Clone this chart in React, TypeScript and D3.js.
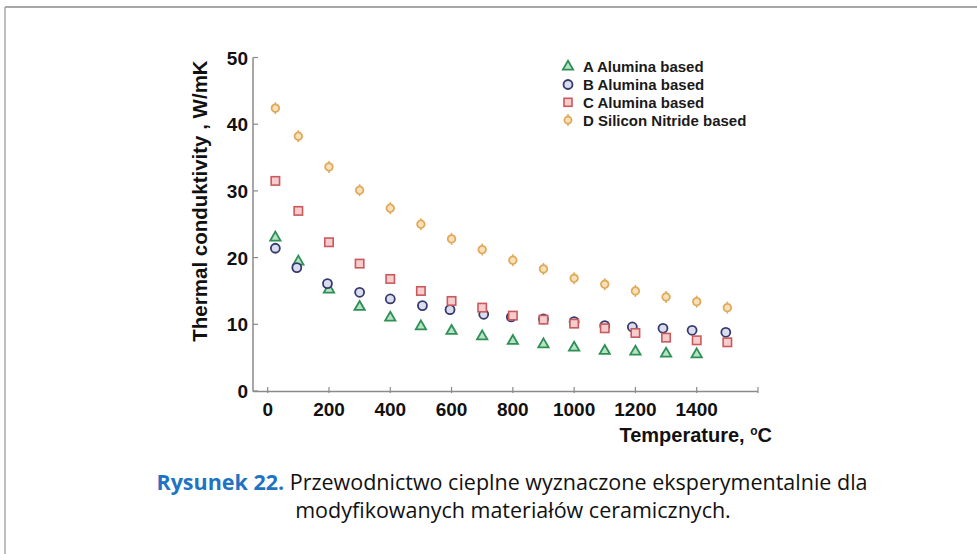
import * as d3 from 'd3'
import { useEffect, useRef } from 'react'

const temps = [25, 100, 200, 300, 400, 500, 600, 700, 800, 900, 1000, 1100, 1200, 1300, 1400, 1500]
const tempsB = [25, 95, 195, 300, 400, 505, 595, 705, 795, 900, 1000, 1100, 1190, 1290, 1385, 1495]
const seriesA = [23.0, 19.4, 15.2, 12.6, 11.0, 9.7, 9.0, 8.2, 7.5, 7.0, 6.5, 6.0, 5.9, 5.6, 5.5]
const seriesB = [21.4, 18.5, 16.1, 14.8, 13.8, 12.8, 12.2, 11.5, 11.1, 10.8, 10.4, 9.8, 9.6, 9.4, 9.1, 8.8]
const seriesC = [31.5, 27.0, 22.3, 19.1, 16.8, 15.0, 13.5, 12.5, 11.3, 10.7, 10.1, 9.4, 8.7, 8.0, 7.6, 7.3]
const seriesD = [42.4, 38.2, 33.6, 30.1, 27.4, 25.0, 22.8, 21.2, 19.6, 18.3, 16.9, 16.0, 15.0, 14.1, 13.4, 12.5]
const legendLabels = ['A Alumina based', 'B Alumina based', 'C Alumina based', 'D Silicon Nitride based']
const xTicks = [0, 200, 400, 600, 800, 1000, 1200, 1400]
const yTicks = [0, 10, 20, 30, 40, 50]

export default function App() {
    const svgRef = useRef(null)
    const width = 977, height = 554

    useEffect(() => {
        const svg = d3.select(svgRef.current)
        svg.selectAll('*').remove()

        // frame of the page
        svg.append('line').attr('x1', 5).attr('x2', width).attr('y1', 7).attr('y2', 7)
            .attr('stroke', '#a8a8a8').attr('stroke-width', 2)
        svg.append('line').attr('x1', 5).attr('x2', 5).attr('y1', 7).attr('y2', height)
            .attr('stroke', '#a8a8a8').attr('stroke-width', 1.5)

        const xScale = d3.scaleLinear().domain([0, 1400]).range([267.7, 696.7])
        const yScale = d3.scaleLinear().domain([0, 50]).range([391, 57.5])
        const axisColor = '#8a8a8a'
        const font = '"Liberation Sans", Arial, sans-serif'

        // axes
        svg.append('line').attr('x1', 253).attr('x2', xScale(1600)).attr('y1', 391.5).attr('y2', 391.5)
            .attr('stroke', axisColor).attr('stroke-width', 1.5)
        svg.append('line').attr('x1', 253).attr('x2', 253).attr('y1', 391.5).attr('y2', yScale(50))
            .attr('stroke', axisColor).attr('stroke-width', 1.5)
        svg.append('g').selectAll('line')
            .data([...xTicks, 1600])
            .join('line')
                .attr('x1', d => xScale(d)).attr('x2', d => xScale(d))
                .attr('y1', 387).attr('y2', 393)
                .attr('stroke', axisColor).attr('stroke-width', 1.2)
        svg.append('g').selectAll('line')
            .data(yTicks)
            .join('line')
                .attr('x1', 253).attr('x2', 258)
                .attr('y1', d => yScale(d)).attr('y2', d => yScale(d))
                .attr('stroke', axisColor).attr('stroke-width', 1.2)

        svg.append('g').selectAll('text')
            .data(xTicks)
            .join('text')
                .attr('x', d => xScale(d)).attr('y', 416)
                .attr('text-anchor', 'middle')
                .style('font', `bold 19px ${font}`)
                .attr('fill', '#111')
                .text(d => d)
        svg.append('g').selectAll('text')
            .data(yTicks)
            .join('text')
                .attr('x', 248).attr('y', d => yScale(d) + 7)
                .attr('text-anchor', 'end')
                .style('font', `bold 19px ${font}`)
                .attr('fill', '#111')
                .text(d => d)

        const xt = svg.append('text')
            .attr('x', 772).attr('y', 442)
            .attr('text-anchor', 'end')
            .style('font', `bold 20px ${font}`)
            .attr('fill', '#111')
        xt.append('tspan').text('Temperature, ')
        xt.append('tspan').attr('dy', -7).style('font-size', '12px').text('o')
        xt.append('tspan').attr('dy', 7).text('C')

        svg.append('text')
            .attr('transform', 'translate(207, 201) rotate(-90)')
            .attr('text-anchor', 'middle')
            .style('font', `bold 20.5px ${font}`)
            .attr('fill', '#111')
            .text('Thermal conduktivity , W/mK')

        // markers
        const tri = d3.symbol(d3.symbolTriangle, 46)
        svg.append('g').selectAll('path')
            .data(seriesA)
            .join('path')
                .attr('d', tri)
                .attr('transform', (d, i) => `translate(${xScale(temps[i])},${yScale(d)})`)
                .attr('fill', '#b5e3c6').attr('stroke', '#2f8f55').attr('stroke-width', 1.8)
        svg.append('g').selectAll('circle')
            .data(seriesB)
            .join('circle')
                .attr('cx', (d, i) => xScale(tempsB[i])).attr('cy', d => yScale(d)).attr('r', 4.5)
                .attr('fill', '#dcdcef').attr('stroke', '#353a6e').attr('stroke-width', 1.8)
        svg.append('g').selectAll('rect')
            .data(seriesC)
            .join('rect')
                .attr('x', (d, i) => xScale(temps[i]) - 4.2).attr('y', d => yScale(d) - 4.2)
                .attr('width', 8.4).attr('height', 8.4)
                .attr('fill', '#f6cccc').attr('stroke', '#c85a5e').attr('stroke-width', 1.6)
        const dG = svg.append('g').selectAll('g')
            .data(seriesD)
            .join('g')
                .attr('transform', (d, i) => `translate(${xScale(temps[i])},${yScale(d)})`)
        dG.append('line').attr('y1', -6).attr('y2', 6).attr('stroke', '#e0aa5c').attr('stroke-width', 1.5)
        dG.append('circle').attr('r', 3.8)
            .attr('fill', '#f8e0b8').attr('stroke', '#e0aa5c').attr('stroke-width', 1.8)

        // legend
        const lx = 568, ly = 66.7, ls = 17.8
        const leg = svg.append('g')
        leg.append('path').attr('d', tri).attr('transform', `translate(${lx},${ly})`)
            .attr('fill', '#b5e3c6').attr('stroke', '#2f8f55').attr('stroke-width', 1.8)
        leg.append('circle').attr('cx', lx).attr('cy', ly + ls).attr('r', 4.5)
            .attr('fill', '#dcdcef').attr('stroke', '#353a6e').attr('stroke-width', 1.8)
        leg.append('rect').attr('x', lx - 4).attr('y', ly + 2 * ls - 4).attr('width', 8).attr('height', 8)
            .attr('fill', '#f6cccc').attr('stroke', '#c85a5e').attr('stroke-width', 1.6)
        leg.append('line').attr('x1', lx).attr('x2', lx).attr('y1', ly + 3 * ls - 6).attr('y2', ly + 3 * ls + 6)
            .attr('stroke', '#e0aa5c').attr('stroke-width', 1.5)
        leg.append('circle').attr('cx', lx).attr('cy', ly + 3 * ls).attr('r', 3.6)
            .attr('fill', '#f8e0b8').attr('stroke', '#e0aa5c').attr('stroke-width', 1.8)
        leg.selectAll('text')
            .data(legendLabels)
            .join('text')
                .attr('x', 583).attr('y', (d, i) => ly + i * ls + 5.5)
                .style('font', `bold 15px ${font}`)
                .attr('fill', '#1a1a1a')
                .text(d => d)

        // caption
        const capFont = '"Open Sans", Lato, sans-serif'
        const c1 = svg.append('text')
            .attr('x', 512).attr('y', 490)
            .attr('text-anchor', 'middle')
            .style('font', `21.5px ${capFont}`)
            .attr('fill', '#111')
        c1.append('tspan').attr('fill', '#1f73c2').style('font-weight', 'bold').text('Rysunek 22.')
        c1.append('tspan').text(' Przewodnictwo cieplne wyznaczone eksperymentalnie dla')
        svg.append('text')
            .attr('x', 513).attr('y', 518)
            .attr('text-anchor', 'middle')
            .style('font', `21.5px ${capFont}`)
            .attr('fill', '#111')
            .text('modyfikowanych materiałów ceramicznych.')
    }, [])

    return (
        <svg ref={svgRef} width={width} height={height}
            style={{ position: 'absolute', left: 0, top: 0, background: '#fff' }} />
    )
}
